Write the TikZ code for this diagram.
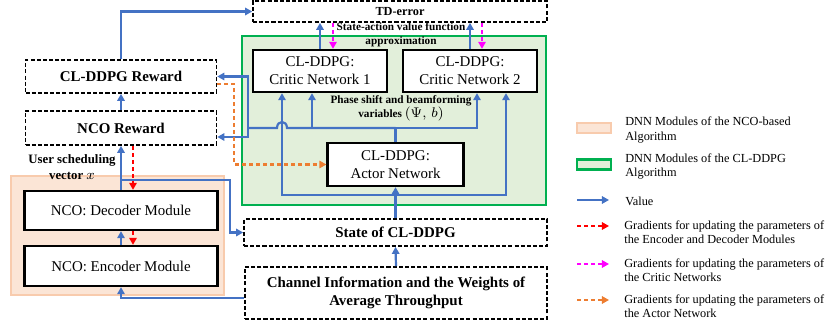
\documentclass[tikz,border=0pt]{standalone}
\usepackage{amsmath}
\usepackage{fontspec}
\setmainfont{Liberation Serif}
\usetikzlibrary{arrows.meta}
\definecolor{valblue}{HTML}{4472C4}
\definecolor{gradred}{HTML}{FF0000}
\definecolor{gradmag}{HTML}{FF00FF}
\definecolor{gradorg}{HTML}{ED7D31}
\definecolor{ddpgline}{HTML}{00B050}
\definecolor{ddpgfill}{HTML}{E2EFDA}
\definecolor{ncoline}{HTML}{F8CBAD}
\definecolor{ncofill}{HTML}{FBE5D6}

\begin{document}
\begin{tikzpicture}[x=0.02cm,y=-0.02cm,
    box/.style={draw, fill=white, line width=1.3pt, inner sep=0pt, align=center, font=\fontsize{8.5}{10.2}\selectfont},
    dbox/.style={draw, fill=white, line width=0.95pt, dash pattern=on 2.3pt off 1.2pt, inner sep=0pt, align=center, font=\bfseries\fontsize{8.5}{10.2}\selectfont},
    valline/.style={valblue, line width=1.25pt},
    val/.style={valline, -{Triangle[length=4pt,width=4.2pt]}},
    grade/.style={gradred, line width=1.2pt, dash pattern=on 2.3pt off 1.7pt, -{Triangle[length=4pt,width=4.2pt]}},
    gradc/.style={gradmag, line width=1.2pt, dash pattern=on 2.3pt off 1.7pt, -{Triangle[length=4pt,width=4.2pt]}},
    grada/.style={gradorg, line width=1.2pt, dash pattern=on 2.3pt off 1.7pt, -{Triangle[length=4pt,width=4.2pt]}},
    lbl/.style={inner sep=0pt, align=center, font=\bfseries\fontsize{6.4}{8.2}\selectfont},
    leg/.style={anchor=west, inner sep=0pt, align=left, font=\fontsize{7}{8}\selectfont}]
    \useasboundingbox (0,0) rectangle (831,327);

    % regions
    \node[draw=ddpgline, fill=ddpgfill, line width=1pt, minimum width=6.08cm, minimum height=3.38cm, inner sep=0pt] (DDPG) at (394,120.5) {};
    \node[draw=ncoline, fill=ncofill, line width=1pt, minimum width=4.26cm, minimum height=2.38cm, inner sep=0pt] (NCO) at (117.5,235.5) {};

    % blocks
    \node[dbox, font=\bfseries\fontsize{7}{8}\selectfont, minimum width=5.88cm, minimum height=0.42cm] (TD) at (400,11.5) {TD-error};
    \node[box, minimum width=2.68cm, minimum height=0.84cm] (CR1) at (320,71) {CL-DDPG:\\Critic Network 1};
    \node[box, minimum width=2.68cm, minimum height=0.84cm] (CR2) at (470,71) {CL-DDPG:\\Critic Network 2};
    \node[box, minimum width=2.72cm, minimum height=0.86cm] (ACT) at (395.5,164.5) {CL-DDPG:\\Actor Network};
    \node[dbox, minimum width=3.82cm, minimum height=0.66cm] (RD) at (121,76.5) {CL-DDPG Reward};
    \node[dbox, minimum width=3.82cm, minimum height=0.68cm] (RN) at (121,128) {NCO Reward};
    \node[box, minimum width=3.86cm, minimum height=0.78cm] (DEC) at (121,210.5) {NCO: Decoder Module};
    \node[box, minimum width=3.86cm, minimum height=0.80cm] (ENC) at (121,266) {NCO: Encoder Module};
    \node[dbox, minimum width=6.06cm, minimum height=0.54cm] (ST) at (395.5,232.5) {State of CL-DDPG};
    \node[dbox, minimum width=6.04cm, minimum height=1.04cm] (CH) at (396,293) {Channel Information and the Weights of\\Average Throughput};

    % labels
    \node[lbl] (SAV) at (401,35) {State-action value function\\approximation};
    \node[lbl] (PSB) at (401,108.5) {Phase shift and beamforming\\variables {\fontsize{8}{8.2}\selectfont$(\Psi,\,b)$}};
    \node[lbl, font=\bfseries\fontsize{7.3}{9}\selectfont] (USV) at (72,167) {User scheduling\\vector {\fontsize{8.5}{9}\selectfont$x$}};

    % value flow
    \coordinate (brk) at (121,180);
    \coordinate (actjn) at (395.5,128);
    \coordinate (bjn) at (248,128);
    \coordinate (sjn) at (395.5,195);
    \draw[val] (RD.north) |- (TD.west);
    \draw[val] (RN.north) -- (RD.south);
    \draw[val] (DEC.north) -- (RN.south);
    \draw[val] (brk) -- (230,180) |- (ST.west);
    \draw[val] (ENC.north) -- (DEC.south);
    \draw[val] ([yshift=-0.1cm]CH.west) -| (ENC.south);
    \draw[val] (CH.north) -- (ST.south);
    \draw[val] (ST.north) -- (ACT.south);
    \draw[val] (sjn) -| ([xshift=-0.76cm]CR1.south);
    \draw[val] (sjn) -| ([xshift=0.72cm]CR2.south);
    \draw[valline] (ACT.north) -- (actjn);
    \draw[val] (actjn) -| ([xshift=-0.16cm]CR1.south);
    \draw[val] (actjn) -| ([xshift=0.14cm]CR2.south);
    \draw[valline] (actjn) -- (287,128) .. controls (287,120) and (277,120) .. (277,128) -- (bjn);
    \draw[val] (bjn) |- (RD.east);
    \draw[val] (bjn) |- ([yshift=-0.18cm]RN.east);
    \draw[val] (CR1.north) -- (CR1.north |- TD.south);
    \draw[val] (CR2.north) -- (CR2.north |- TD.south);

    % gradients
    \draw[grade] ([xshift=0.24cm]RN.south) -- ([xshift=0.24cm]DEC.north);
    \draw[grade] ([xshift=0.24cm]DEC.south) -- ([xshift=0.24cm]ENC.north);
    \draw[gradc] ([xshift=0.26cm]TD.south -| CR1.north) -- ([xshift=0.26cm]CR1.north);
    \draw[gradc] ([xshift=0.24cm]TD.south -| CR2.north) -- ([xshift=0.24cm]CR2.north);
    \draw[grada] ([yshift=-0.15cm]RD.east) -- ++(17,0) |- (ACT.west);

    % legend
    \node[draw=ncoline, fill=ncofill, line width=1.2pt, minimum width=0.68cm, minimum height=0.2cm, inner sep=0pt] (LG1) at (594,128) {};
    \node[draw=ddpgline, fill=ddpgfill, line width=1.2pt, minimum width=0.68cm, minimum height=0.2cm, inner sep=0pt] (LG2) at (594,164.5) {};
    \coordinate (LV1) at (577,200);   \coordinate (LV2) at (609,200);
    \coordinate (LE1) at (577,226);   \coordinate (LE2) at (609,226);
    \coordinate (LC1) at (577,264);   \coordinate (LC2) at (609,264);
    \coordinate (LA1) at (577,300);   \coordinate (LA2) at (609,300);
    \draw[val] (LV1) -- (LV2);
    \draw[grade] (LE1) -- (LE2);
    \draw[gradc] (LC1) -- (LC2);
    \draw[grada] (LA1) -- (LA2);
    \node[leg] (T1) at (625,130) {DNN Modules of the NCO-based\\Algorithm};
    \node[leg] (T2) at (625,166.5) {DNN Modules of the CL-DDPG\\Algorithm};
    \node[leg] (T3) at (625,201) {Value};
    \node[leg] (T4) at (624,232.5) {Gradients for updating the parameters of\\the Encoder and Decoder Modules};
    \node[leg] (T5) at (624,270.5) {Gradients for updating the parameters of\\the Critic Networks};
    \node[leg] (T6) at (624,306) {Gradients for updating the parameters of\\the Actor Network};
\end{tikzpicture}
\end{document}
